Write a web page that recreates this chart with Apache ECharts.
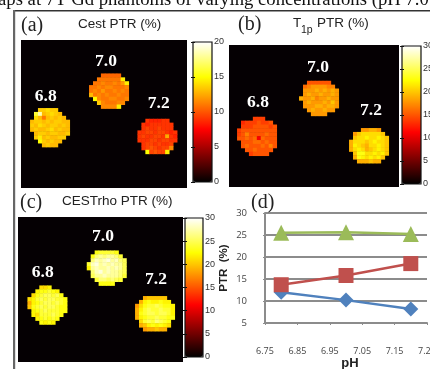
<!DOCTYPE html>
<html><head><meta charset="utf-8">
<style>html,body{margin:0;padding:0;background:#fff}#c{width:430px;height:369px}</style>
<script src="https://cdn.jsdelivr.net/npm/echarts@6/dist/echarts.min.js"></script>
</head><body><div id="c"></div>
<script>
// Panel (a) Cest PTR maps, values in %, 0 = no phantom in that cell
const a68=[[0,0,13.5,13.5,14,13.5,13.5,0,0,0],[0,16,18.5,13,13.5,14,13.5,13,0,0],[0,14,13,11,13,13.5,13,13.5,13,0],[13,13.5,13.5,13,13.5,13,13.5,13.5,13,13],[13.5,13,14,13.5,13,13.5,13.5,13,13.5,13],[13,13.5,13,13,13.5,14,13,13.5,13,13],[0,13,13.5,13.5,13,13.5,13.5,13,13,13.5],[0,13.5,14.5,13,13.5,13,13,13.5,13.5,0],[0,0,15,13.5,13,13.5,13,13,0,0],[0,0,0,13,13.5,13,13,0,0,0]];
const a70=[[0,0,0,10.5,10.5,10.5,10.5,10.5,0,0],[0,0,11,11,11,11,11,11,14.5,0],[0,11,11,11.5,11,11,11.5,11,12,14.5],[11,11,11.5,11,11.5,11.5,11,11,11,11.5],[11,11.5,11,12,11,11,11.5,11,11.5,11],[13,11,11.5,11,11.5,11,11,11.5,11,11],[0,15,11.5,11,11,11.5,11.5,11,11,11.5],[0,0,13.5,11.5,11,11,11,11.5,11.5,0],[0,0,0,11.5,11.5,11.5,11.5,14.5,0,0]];
const a72=[[0,0,9,8.5,8.5,8.5,9,9,0,0],[0,9,8.5,9,9,9,9,9,9,0],[0,9,9.5,9,9,9.5,9,9,9,0],[9,9,9.5,9.5,9,9.5,9.5,9,8.5,9],[9,9.5,9,9,9.5,9.5,9,12.5,9,8.5],[9,9,9,9.5,9.5,9,9.5,9.5,9,9],[0,9,9.5,9.5,9,9.5,9,9,9.5,0],[0,9,9.5,10,9.5,9,9.5,9.5,11.5,0],[0,0,15,9.5,10,9.5,9.5,14.5,0,0]];
// Panel (b) T1p PTR maps
const b68=[[0,0,0,0,14,14,14,0,0,0],[0,13,14,14,14,15,14,14,15,0],[0,14,14,14,15,15,15,15,14,15],[14,15,15,15,15,15,15,15,15,15],[14,15,17,15,15,15,15,16,15,15],[15,15,16,15,16,11,16,15,15,15],[0,15,15,15,16,16,15,16,15,15],[0,15,16,15,15,15,16,15,17,15],[0,0,15,15,16,15,15,15,15,0],[0,0,0,14,15,15,15,15,0,0]];
const b70=[[0,0,15,15,15,15,15,15,0,0],[0,16,17,18,18,18,18,17,17,0],[0,18,18,18,19,18,19,18,19,18],[0,18,19,18,18,19,18,18,19,18],[19,18,18,19,17,18,18,19,18,18],[0,18,19,18,18,18,19,18,20,18],[0,18,18,18,19,19,18,19,19,18],[0,0,18,19,18,18,19,18,18,0],[0,0,0,18,18,18,18,0,0,0]];
const b72=[[0,0,0,18,18,19,19,18,0,0],[0,18,20,21,21,21,21,21,20,0],[0,20,21,21,22,21,21,22,21,20],[19,21,21,21,20,21,22,21,21,20],[19,22,21,20,19,21,21,22,21,20],[19,21,22,21,19,20,21,22,21,20],[0,20,23,23,21,21,22,21,22,20],[0,19,23,22,21,22,21,22,20,0],[0,0,19,19,19,20,19,19,0,0]];
// Panel (c) CESTrho PTR maps
const c68=[[0,0,0,21,21,22,0,0,0,0],[0,0,22,23,23,24,23,22,0,0],[0,21,23,24,25,25,24,25,23,0],[21,22,24,25,24,25,25,24,24,23],[19,22,23,24,25,25,24,25,24,23],[20,23,24,25,24,25,25,24,23,23],[0,22,23,24,25,24,24,24,23,23],[0,22,21,24,24,24,25,24,23,0],[0,0,22,23,24,23,24,23,0,0],[0,0,0,23,22,23,22,0,0,0]];
const c70=[[0,0,23,24,24,24,24,23,0,0],[0,23,26,27,26,27,27,26,24,0],[0,26,28,27,28,29,27,28,26,25],[24,28,29,27,28,27,28,27,27,25],[22,27,28,27,27,28,27,28,27,25],[0,26,28,29,27,28,27,27,26,25],[0,25,27,27,28,27,27,27,26,24],[0,0,24,26,26,25,26,25,24,0],[0,0,0,23,23,23,23,0,0,0]];
const c72=[[0,0,19,20,20,20,20,20,0,0],[0,19,22,23,22,22,23,22,22,0],[18,21,23,24,24,25,24,23,23,22],[19,22,24,25,24,24,25,24,24,22],[19,23,24,25,25,24,25,25,24,22],[19,22,23,24,24,25,24,24,23,23],[0,21,24,25,24,26,25,24,23,0],[0,19,20,22,23,22,23,22,21,0],[0,0,18,19,19,20,19,19,0,0]];
// Panel (d) PTR vs pH
const phValues=[6.8,7.0,7.2];
const cestPTR=[12,10.2,8.2];
const t1pPTR=[13.7,15.8,18.5];
const cestrhoPTR=[25.5,25.6,25.2];
const phTicks=[6.75,6.85,6.95,7.05,7.15,7.25];
const hotColors=['#000000','#550000','#aa0000','#ff0000','#ff5500','#ffaa00','#ffff00','#ffff80','#ffffff'];

const CW=3.95, CH=3.88;
const discs=[
 {v:a68,l:30.3,t:108.3,p:0},{v:a70,l:89.3,t:73.7,p:0},{v:a72,l:137.7,t:119,p:0},
 {v:b68,l:237.3,t:117,p:1},{v:b70,l:299.3,t:81,p:1},{v:b72,l:349.3,t:128.3,p:1},
 {v:c68,l:27.7,t:285.7,p:2},{v:c70,l:87,t:250.7,p:2},{v:c72,l:135.3,t:296.3,p:2}
];
const bars=[
 {max:20,l:193,t:42,w:19,h:140},
 {max:30,l:402,t:46,w:19,h:138},
 {max:30,l:185,t:218,w:18,h:139}
];
const grid=[],xAxis=[],yAxis=[],series=[];
discs.forEach((d,i)=>{
  const rows=d.v.length, cols=d.v[0].length;
  grid.push({left:d.l,top:d.t,width:cols*CW,height:rows*CH,outerBoundsMode:'none'});
  xAxis.push({type:'category',gridIndex:i,show:false,data:[...Array(cols).keys()]});
  yAxis.push({type:'category',gridIndex:i,show:false,inverse:true,data:[...Array(rows).keys()]});
  const cells=[];
  d.v.forEach((r,y)=>r.forEach((val,x)=>{if(val>0)cells.push([x,y,val]);}));
  series.push({type:'heatmap',xAxisIndex:i,yAxisIndex:i,data:cells,silent:true,progressive:0,itemStyle:{borderWidth:0}});
});
const visualMap=bars.map((b,i)=>({type:'continuous',min:0,max:b.max,seriesIndex:[i*3,i*3+1,i*3+2],
  inRange:{color:hotColors},left:b.l,top:b.t,itemWidth:b.w,itemHeight:b.h,calculable:false,
  hoverLink:false,text:null,padding:0,orient:'vertical'}));
bars.forEach(b=>{
  const gi=grid.length;
  grid.push({left:b.l,top:b.t,width:b.w,height:b.h,show:true,z:6,outerBoundsMode:'none',backgroundColor:'transparent',borderColor:'#111',borderWidth:1.2});
  xAxis.push({type:'value',gridIndex:gi,show:false,min:0,max:1});
  const base={type:'value',gridIndex:gi,min:0,max:b.max,interval:5,z:7,splitLine:{show:false},axisLine:{show:false}};
  yAxis.push({...base,position:'right',axisTick:{inside:true,length:2,lineStyle:{color:'#111'}},
    axisLabel:{margin:2,fontFamily:'Liberation Sans',fontSize:9,color:'#333'}});
  yAxis.push({...base,position:'left',axisTick:{inside:true,length:2,lineStyle:{color:'#111'}},axisLabel:{show:false}});
});
const gd=grid.length;
grid.push({left:265,top:213,width:162,height:110,outerBoundsMode:'none'});
xAxis.push({type:'value',gridIndex:gd,min:6.75,max:7.25,name:'pH',nameLocation:'middle',nameGap:33,
  nameTextStyle:{fontFamily:'Liberation Sans',fontWeight:'bold',fontSize:13,color:'#222',padding:[0,0,0,8]},
  axisLine:{lineStyle:{color:'#8c8c8c',width:2}},
  axisTick:{customValues:phTicks,length:2,lineStyle:{color:'#8c8c8c'}},
  axisLabel:{customValues:phTicks,margin:24,fontFamily:'Open Sans',fontSize:9,color:'#444',formatter:v=>v.toFixed(2)},
  splitLine:{show:false}});
yAxis.push({type:'value',gridIndex:gd,min:5,max:30,interval:5,name:'PTR  (%)',nameLocation:'middle',nameGap:35,
  nameTextStyle:{fontFamily:'Liberation Sans',fontWeight:'bold',fontSize:11.5,color:'#222'},
  axisLine:{show:true,lineStyle:{color:'#8c8c8c',width:2}},axisTick:{show:true,length:2,lineStyle:{color:'#8c8c8c'}},
  axisLabel:{margin:18,fontFamily:'Open Sans',fontSize:9.5,color:'#444'},
  splitLine:{show:true,lineStyle:{color:'#8c8c8c',width:2}}});
const xi=xAxis.length-1, yi=yAxis.length-1;
const pts=a=>a.map((v,i)=>[phValues[i],v]);
const mk=(data,color,symbol,size)=>({type:'line',xAxisIndex:xi,yAxisIndex:yi,data:pts(data),symbol,symbolSize:size,
  lineStyle:{color,width:2.5},itemStyle:{color},silent:true,animation:false});
series.push(mk(cestPTR,'#4f81bd','diamond',15),mk(t1pPTR,'#c0504d','rect',15),mk(cestrhoPTR,'#9bbb59','triangle',16));

const serif='Liberation Serif', sans='Liberation Sans';
const txt=(x,y,text,extra)=>({type:'text',x,y,z:10,silent:true,style:Object.assign({text,fill:'#111',fontFamily:sans,fontSize:13.5,align:'left',verticalAlign:'middle'},extra)});
const phase=(x,y,t)=>txt(x,y,t,{fill:'#fff',fontFamily:serif,fontWeight:'bold',fontSize:17.5,align:'center'});
const panel=(x,y,t)=>txt(x,y,t,{fontFamily:serif,fontSize:20,fill:'#222'});
const rect=(x,y,width,height,fill)=>({type:'rect',z:0,silent:true,shape:{x,y,width,height},style:{fill}});
const graphic=[
  rect(21,40,166,148,'#050003'),rect(229,45,170,142,'#050003'),rect(18,217,165,145,'#050003'),
  rect(13,10,417,1.6,'#333'),rect(13,10,2.2,359,'#666'),
  txt(-2,0,'aps at 7T Gd phantoms of varying concentrations (pH 7.0',{fontFamily:serif,fontSize:18.7,verticalAlign:'middle'}),
  panel(21,26,'(a)'),panel(238,25,'(b)'),panel(20,203,'(c)'),panel(251,203,'(d)'),
  txt(78,24,'Cest PTR (%)',{fill:'#222'}),
  txt(293,23,'T',{fill:'#222'}),txt(301,30,'1p',{fill:'#222',fontSize:10.5}),txt(317,23,'PTR (%)',{fill:'#222'}),
  txt(62,201,'CESTrho PTR (%)',{fill:'#222'}),
  phase(45.7,96,'6.8'),phase(106,61,'7.0'),phase(158.7,103,'7.2'),
  phase(258,102.7,'6.8'),phase(318,67.7,'7.0'),phase(371,110,'7.2'),
  phase(42.7,272,'6.8'),phase(103,236.7,'7.0'),phase(156,279,'7.2')
];
const chart=echarts.init(document.getElementById('c'),null,{renderer:'canvas'});
chart.setOption({animation:false,backgroundColor:'#fff',grid,xAxis,yAxis,series,visualMap,graphic});
</script></body></html>
